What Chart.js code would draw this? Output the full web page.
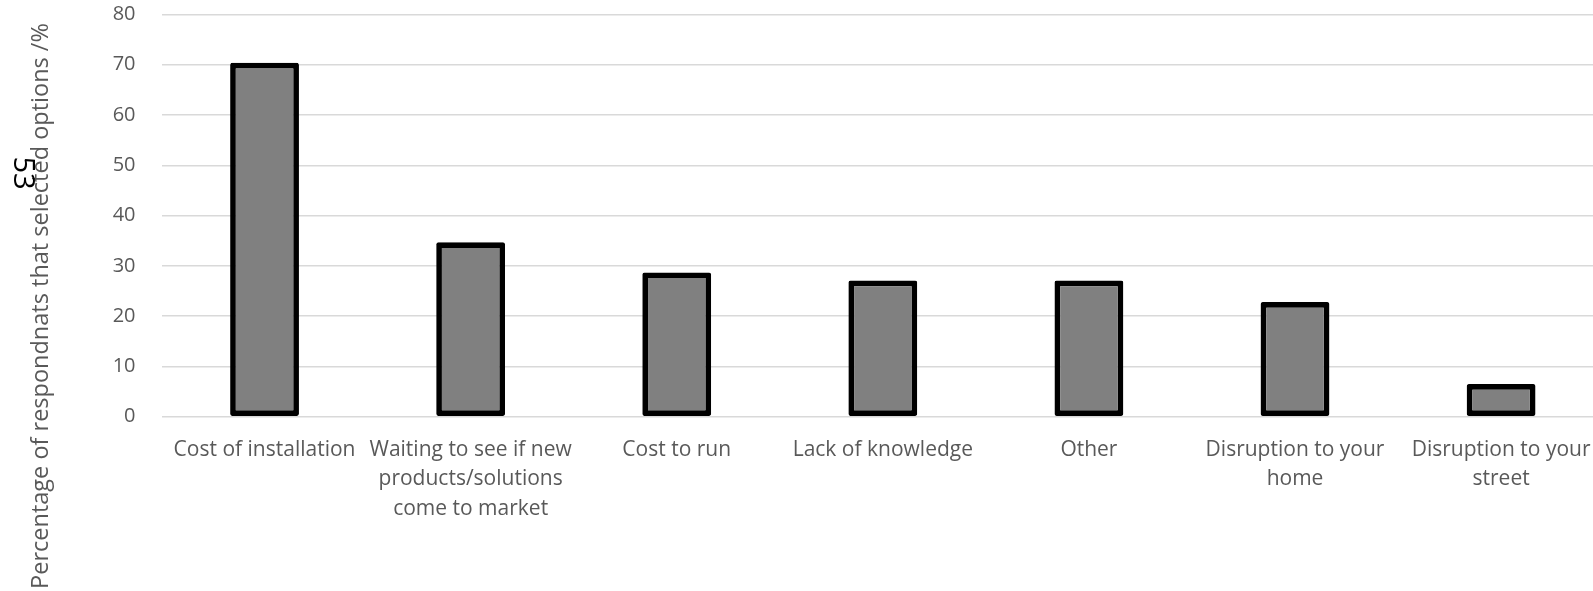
<!DOCTYPE html>
<html>
<head>
<meta charset="utf-8">
<script src="https://cdn.jsdelivr.net/npm/chart.js@4"></script>
<style>
  html, body { margin: 0; padding: 0; background: #fff; overflow: hidden; }
  #wrap { position: relative; width: 1609px; height: 591px; }
</style>
</head>
<body>
<div id="wrap"><canvas id="barChart"></canvas></div>
<script>
const categories = [
    'Cost of installation',
    ['Waiting to see if new', 'products/solutions', 'come to market'],
    'Cost to run',
    'Lack of knowledge',
    'Other',
    ['Disruption to your', 'home'],
    ['Disruption to your', 'street']
];
const percentages = [70.4, 34.7, 28.7, 27.1, 27.1, 22.8, 6.5];
const yTicks = [0, 10, 20, 30, 40, 50, 60, 70, 80];
const yTitle = 'Percentage of respondnats that selected options /%';
const pageMark = '53';

const FONT = '"Open Sans", sans-serif';
const TEXT_GREY = '#595959';

// y title + stray page number sit off-centre, draw them by hand
const sideText = {
    id: 'sideText',
    afterDraw(chart) {
        const ctx = chart.ctx;
        ctx.save();
        ctx.fillStyle = TEXT_GREY;
        ctx.font = '23.5px ' + FONT;
        ctx.textAlign = 'center';
        ctx.textBaseline = 'middle';
        ctx.translate(41, 306);
        ctx.rotate(-Math.PI / 2);
        ctx.fillText(yTitle, 0, 0);
        ctx.restore();

        ctx.save();
        ctx.fillStyle = '#000';
        ctx.font = '29px ' + FONT;
        ctx.textAlign = 'center';
        ctx.textBaseline = 'middle';
        ctx.translate(22, 173);
        ctx.rotate(Math.PI / 2);
        ctx.fillText(pageMark, 0, 0);
        ctx.restore();
    }
};

function renderBarChart() {
    const ctx = document.getElementById('barChart').getContext('2d');

    new Chart(ctx, {
        type: 'bar',
        data: {
            labels: categories,
            datasets: [{
                data: percentages,
                backgroundColor: '#808080',
                borderColor: '#000000',
                borderWidth: 5.7,
                borderSkipped: false,
                borderRadius: 2,
                barPercentage: 0.334,
                categoryPercentage: 1
            }]
        },
        options: {
            responsive: true,
            maintainAspectRatio: false,
            animation: false,
            layout: {
                padding: { top: 14.5, left: 0, right: 0, bottom: 0 }
            },
            plugins: {
                legend: { display: false },
                tooltip: { enabled: false }
            },
            scales: {
                y: {
                    min: 0,
                    max: 80,
                    afterFit(scale) { scale.width = 161.5; },
                    afterBuildTicks(scale) { scale.ticks = yTicks.map(v => ({ value: v })); },
                    border: { display: false },
                    ticks: {
                        color: TEXT_GREY,
                        font: { family: FONT, size: 20 },
                        padding: 0
                    },
                    grid: {
                        color: '#d9d9d9',
                        lineWidth: 1.5,
                        drawTicks: true,
                        tickLength: 26,
                        tickColor: 'rgba(0,0,0,0)'
                    }
                },
                x: {
                    afterFit(scale) { scale.height = 174.3; },
                    border: { display: false },
                    ticks: {
                        color: TEXT_GREY,
                        font: { family: FONT, size: 21, lineHeight: 1.4 },
                        padding: 18.5,
                        maxRotation: 0,
                        autoSkip: false
                    },
                    grid: { display: false, drawTicks: false }
                }
            }
        },
        plugins: [sideText]
    });
}

document.addEventListener('DOMContentLoaded', renderBarChart);
</script>
</body>
</html>
